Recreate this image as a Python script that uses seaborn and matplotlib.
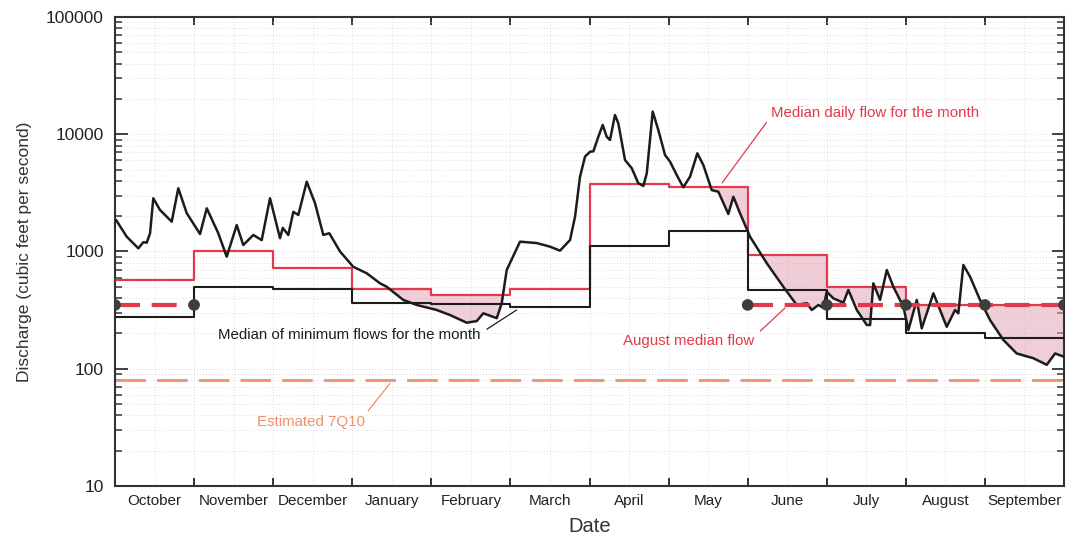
import numpy as np
import pandas as pd
import matplotlib
matplotlib.use("Agg")
import matplotlib.pyplot as plt
from matplotlib.ticker import LogLocator, FuncFormatter, NullFormatter
import seaborn as sns

# Water-year months (October through September)
month_names = ["October", "November", "December", "January", "February", "March",
               "April", "May", "June", "July", "August", "September"]

# Daily discharge, positions in months since 1 October, values in cfs
flow_month = [0.013, 0.148, 0.295, 0.358, 0.401, 0.443, 0.484, 0.569, 0.717, 0.800,
              0.907, 1.075, 1.160, 1.306, 1.412, 1.539, 1.622, 1.749, 1.855, 1.960,
              2.086, 2.121, 2.191, 2.255, 2.318, 2.424, 2.529, 2.634, 2.710, 2.845,
              3.013, 3.183, 3.351, 3.436, 3.646, 3.815, 4.068, 4.236, 4.447, 4.574,
              4.657, 4.827, 4.890, 4.953, 5.121, 5.333, 5.501, 5.627, 5.754, 5.817,
              5.880, 5.943, 6.007, 6.049, 6.112, 6.167, 6.217, 6.259, 6.322, 6.364,
              6.449, 6.534, 6.617, 6.681, 6.724, 6.799, 6.870, 6.955, 7.018, 7.103,
              7.186, 7.271, 7.363, 7.439, 7.545, 7.629, 7.755, 7.819, 7.903, 8.030,
              8.241, 8.451, 8.620, 8.747, 8.810, 8.894, 8.957, 9.000, 9.084, 9.210,
              9.273, 9.380, 9.506, 9.548, 9.589, 9.674, 9.759, 9.842, 9.969, 10.032,
              10.138, 10.201, 10.348, 10.517, 10.622, 10.664, 10.727, 10.812, 10.938, 11.065,
              11.233, 11.402, 11.612, 11.782, 11.887, 11.992]
flow_cfs = [1857, 1337, 1064, 1200, 1190, 1430, 2844, 2260, 1795, 3460,
            2120, 1410, 2335, 1430, 903, 1680, 1135, 1384, 1250, 2844,
            1300, 1590, 1384, 2180, 2050, 3935, 2580, 1384, 1430, 1000,
            740, 652, 535, 500, 386, 350, 317, 287, 247, 255,
            297, 270, 362, 695, 1213, 1180, 1099, 1017, 1253, 1982,
            4345, 6440, 7100, 7150, 9530, 12000, 9530, 8930, 14600, 12400,
            6030, 5130, 3820, 3620, 4650, 15600, 10860, 6650, 5840, 4490,
            3530, 4345, 6870, 5470, 3340, 3235, 2090, 2930, 2120, 1337,
            795, 500, 350, 362, 317, 350, 330, 454, 398, 366,
            470, 317, 236, 236, 535, 386, 695, 500, 338, 214,
            386, 221, 440, 228, 317, 297, 767, 610, 386, 260,
            176, 135, 123, 108, 135, 127]

# Monthly statistics (cfs)
median_daily = [570, 1000, 720, 480, 425, 480, 3770, 3570, 935, 495, 350, 350]
median_min = [278, 495, 478, 365, 355, 338, 1115, 1500, 470, 264, 200, 184]
august_median = 350
q7_10 = 80

# Month spans over which the August median reference is drawn
median_spans = [(0, 1), (8, 12)]

RED = "#e2394b"
DARK = "#1c1c1c"
SALMON = "#f0906c"
PINK = "#e2a6b6"

sns.set_theme(style="white")
plt.rcParams["font.family"] = ["Liberation Sans", "DejaVu Sans"]

fig = plt.figure(figsize=(10.67, 5.36), dpi=100)
ax = fig.add_axes([0.1078, 0.0933, 0.8894, 0.875])
ax.set_yscale("log")

edges = np.arange(13)
steps = pd.DataFrame({
    "month": np.concatenate([edges, edges]),
    "cfs": median_daily + [median_daily[-1]] + median_min + [median_min[-1]],
    "stat": ["daily"] * 13 + ["minimum"] * 13,
})
daily = pd.DataFrame({"month": flow_month, "cfs": flow_cfs})

# Shade where daily flow drops below the monthly median daily flow
xs = np.linspace(0, 12, 4801)
flow_on_xs = np.exp(np.interp(xs, flow_month, np.log(flow_cfs)))
step_on_xs = np.asarray(median_daily)[np.minimum(np.floor(xs).astype(int), 11)]
ax.fill_between(xs, flow_on_xs, step_on_xs, where=flow_on_xs < step_on_xs,
                interpolate=True, color=PINK, alpha=0.55, lw=0, zorder=1)

# Estimated 7Q10 low-flow level
ax.axhline(q7_10, color=SALMON, lw=2.0, dashes=(11, 4), zorder=2)

# Monthly step lines
sns.lineplot(data=steps[steps.stat == "daily"], x="month", y="cfs", ax=ax,
             drawstyle="steps-post", color=RED, lw=1.6, estimator=None, sort=False, zorder=3)
sns.lineplot(data=steps[steps.stat == "minimum"], x="month", y="cfs", ax=ax,
             drawstyle="steps-post", color=DARK, lw=1.5, estimator=None, sort=False, zorder=3)

# Daily hydrograph
sns.lineplot(data=daily, x="month", y="cfs", ax=ax, color=DARK, lw=1.8,
             estimator=None, sort=False, zorder=4)

# August median flow reference with boundary markers
dots = sorted({m for span in median_spans for m in span} | set(range(8, 13)))
for a, b in median_spans:
    ax.plot([a, b], [august_median, august_median], color=RED, lw=3.0,
            dashes=(6, 2.8), zorder=5, solid_capstyle="butt")
sns.scatterplot(x=dots, y=[august_median] * len(dots), ax=ax, color="#3d3d3d",
                s=70, edgecolor="none", zorder=6, legend=False)

ax.set_xlim(0, 12)
ax.set_ylim(10, 100000)

# Annotations
note_size = 10.8
ax.annotate("Median daily flow for the month", xy=(7.676, 3840), xytext=(8.30, 15200),
            ha="left", va="center", color=RED, fontsize=note_size,
            arrowprops=dict(arrowstyle="-", color=RED, lw=0.9, shrinkA=2, shrinkB=0,
                            relpos=(0, 0.3)))
ax.annotate("Median of minimum flows for the month", xy=(5.078, 317), xytext=(4.616, 194),
            ha="right", va="center", color=DARK, fontsize=note_size,
            arrowprops=dict(arrowstyle="-", color=DARK, lw=0.9, shrinkA=3, shrinkB=0,
                            relpos=(1, 0.6)))
ax.annotate("August median flow", xy=(8.472, 330), xytext=(8.08, 172),
            ha="right", va="center", color=RED, fontsize=note_size,
            arrowprops=dict(arrowstyle="-", color=RED, lw=0.9, shrinkA=3, shrinkB=0,
                            relpos=(1, 0.8)))
ax.annotate("Estimated 7Q10", xy=(3.477, 75), xytext=(1.79, 35),
            ha="left", va="center", color=SALMON, fontsize=note_size,
            arrowprops=dict(arrowstyle="-", color=SALMON, lw=0.9, shrinkA=1, shrinkB=0,
                            relpos=(1, 1)))

# Axes, ticks and grid
ax.set_xticks(edges)
ax.set_xticklabels([])
ax.set_xticks(np.arange(12) + 0.5, minor=True)
ax.set_xticklabels(month_names, minor=True)
ax.yaxis.set_major_locator(LogLocator(base=10))
ax.yaxis.set_major_formatter(FuncFormatter(lambda v, _: f"{int(round(v))}"))
ax.yaxis.set_minor_locator(LogLocator(base=10, subs=np.arange(2, 10)))
ax.yaxis.set_minor_formatter(NullFormatter())

ax.tick_params(axis="x", which="major", direction="in", length=6, width=1.4,
               top=True, bottom=True, color="#333333")
ax.tick_params(axis="x", which="minor", length=0, labelsize=11, pad=6, colors="#222222")
ax.tick_params(axis="y", which="major", direction="in", length=9, width=1.3,
               left=True, right=True, labelsize=12.5, pad=8, color="#333333",
               labelcolor="#222222")
ax.tick_params(axis="y", which="minor", direction="in", length=5, width=1.1,
               left=True, right=True, color="#333333")

ax.grid(True, which="both", color="#d2d2d2", linestyle=(0, (1, 2.5)), linewidth=0.6)
ax.set_axisbelow(True)
for side in ax.spines.values():
    side.set_color("#333333")
    side.set_linewidth(1.5)

ax.set_xlabel("Date", fontsize=14.5, labelpad=6, color="#333333")
ax.set_ylabel("Discharge (cubic feet per second)", fontsize=12.5, labelpad=10, color="#333333")

fig.savefig("out.png", dpi=100)
